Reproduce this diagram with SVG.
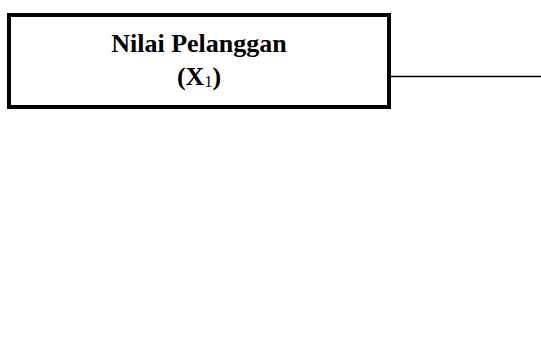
<svg xmlns="http://www.w3.org/2000/svg" width="541" height="363" viewBox="0 0 541 363">
  <style>
    .box { fill: #ffffff; stroke: #000000; stroke-width: 4; }
    .link { stroke: #000000; stroke-width: 1.5; fill: none; }
    .label { font-family: "Liberation Serif", "Times New Roman", serif; font-weight: bold; font-size: 26px; fill: #000000; text-anchor: middle; }
    .sub { font-size: 16px; font-weight: normal; }
  </style>
  <rect width="541" height="363" fill="#ffffff"/>
  <g id="connectors">
    <line class="link" x1="391" y1="76.5" x2="541" y2="76.5"/>
  </g>
  <g id="node-x1">
    <rect class="box" x="9" y="15" width="380" height="92"/>
    <text class="label" x="199" y="52">Nilai Pelanggan</text>
    <text class="label" x="199" y="85">(X<tspan class="sub" dy="2">1</tspan><tspan dy="-2">)</tspan></text>
  </g>
</svg>
